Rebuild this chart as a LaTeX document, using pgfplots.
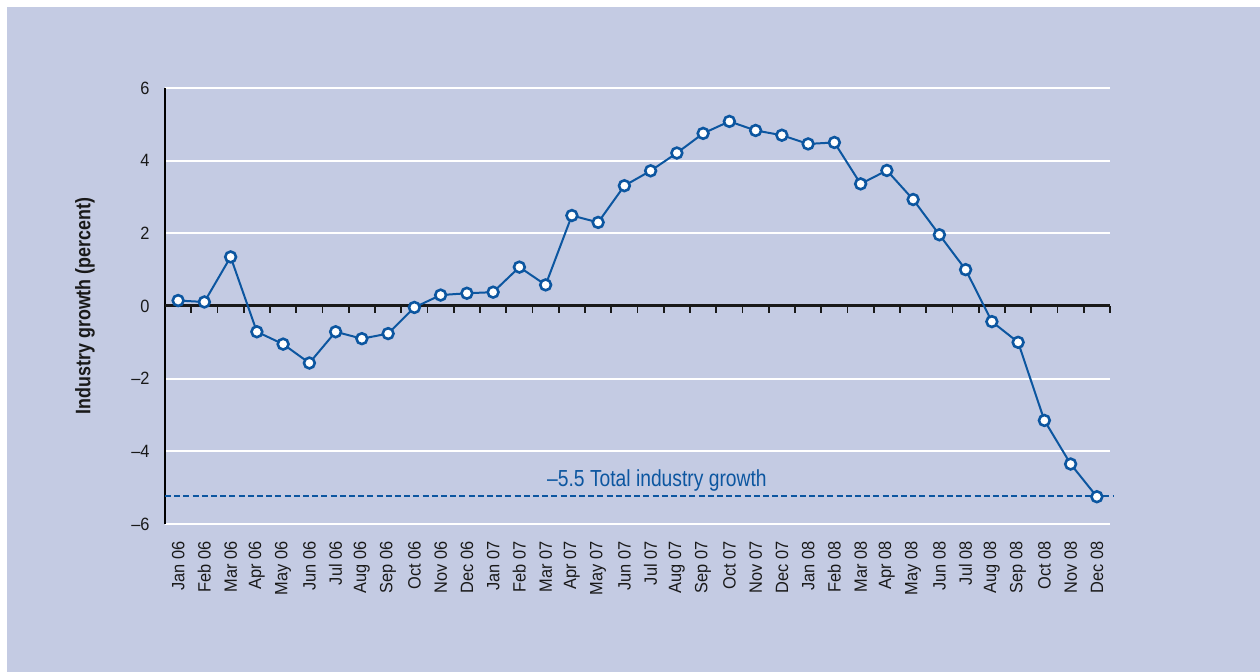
\documentclass[border=0pt]{standalone}
\usepackage{fontspec}
\setmainfont{Liberation Sans}
\newfontfamily\condfont{Liberation Sans}[FakeStretch=0.83]
\newfontfamily\labfont{Liberation Sans}[FakeStretch=0.85]
\newfontfamily\tickfont{Liberation Sans}[FakeStretch=0.92]
\usepackage{pgfplots}
\pgfplotsset{compat=1.18}
\definecolor{bg}{RGB}{196,203,227}
\definecolor{lineblue}{RGB}{12,86,160}
\pgfplotstableread{
x y
0 0.15
1 0.11
2 1.35
3 -0.71
4 -1.05
5 -1.57
6 -0.71
7 -0.90
8 -0.76
9 -0.04
10 0.30
11 0.35
12 0.38
13 1.07
14 0.58
15 2.49
16 2.30
17 3.31
18 3.72
19 4.21
20 4.75
21 5.08
22 4.83
23 4.70
24 4.46
25 4.50
26 3.36
27 3.73
28 2.93
29 1.96
30 1.00
31 -0.43
32 -1.00
33 -3.15
34 -4.35
35 -5.25
}\growth
\begin{document}
\begin{tikzpicture}[x=1pt,y=1pt]
\useasboundingbox (0,0) rectangle (630,336);
\fill[white] (0,0) rectangle (630,336);
\fill[bg] (3.5,0) rectangle (630,332.5);
\begin{axis}[
  at={(82.5pt,74pt)}, anchor=south west,
  scale only axis, width=472.5pt, height=218pt,
  xmin=-0.5, xmax=35.5, ymin=-6, ymax=6,
  clip=false,
  axis lines*=left,
  x axis line style={draw=none},
  y axis line style={black, line width=1.1pt},
  major tick length=0pt,
  xtick={0,...,35},
  xticklabels={Jan 06,Feb 06,Mar 06,Apr 06,May 06,Jun 06,Jul 06,Aug 06,Sep 06,Oct 06,Nov 06,Dec 06,
    Jan 07,Feb 07,Mar 07,Apr 07,May 07,Jun 07,Jul 07,Aug 07,Sep 07,Oct 07,Nov 07,Dec 07,
    Jan 08,Feb 08,Mar 08,Apr 08,May 08,Jun 08,Jul 08,Aug 08,Sep 08,Oct 08,Nov 08,Dec 08},
  xticklabel style={rotate=90, anchor=east, inner xsep=8.5pt, inner ysep=0pt,
    font=\tickfont\fontsize{8.9}{10}\selectfont, text=black!90},
  ytick={-6,-4,-2,0,2,4,6},
  yticklabels={–6,–4,–2,0,2,4,6},
  yticklabel style={inner sep=0pt, xshift=-7.5pt,
    font=\tickfont\fontsize{8.9}{10}\selectfont, text=black!90},
  ymajorgrids,
  grid style={white, line width=1pt},
]
\draw[black!90, line width=1.5pt] (axis cs:-0.5,0) -- (axis cs:35.5,0);
\pgfplotsinvokeforeach{0.5,1.5,...,35.5}{
  \draw[black!90, line width=0.9pt] (axis cs:#1,0) -- ([yshift=-3.6pt]axis cs:#1,0);
}
\addplot[lineblue, line width=1pt, dash pattern=on 3pt off 1.6pt, forget plot]
  coordinates {(-0.5,-5.23) (35.6,-5.23)};
\addplot[lineblue, line width=1pt, mark=*, mark size=2.7pt,
  mark options={fill=white, draw=lineblue, line width=1.3pt, solid}]
  table[x=x, y=y] {\growth};
\node[anchor=base, text=lineblue, font=\condfont\fontsize{11.6}{13}\selectfont]
  at (axis cs:18.24,-4.98) {–5.5 Total industry growth};
\end{axis}
\node[rotate=90, font=\labfont\bfseries\fontsize{10.5}{12}\selectfont, text=black!90]
  at (42.5,183) {Industry growth (percent)};
\end{tikzpicture}
\end{document}
